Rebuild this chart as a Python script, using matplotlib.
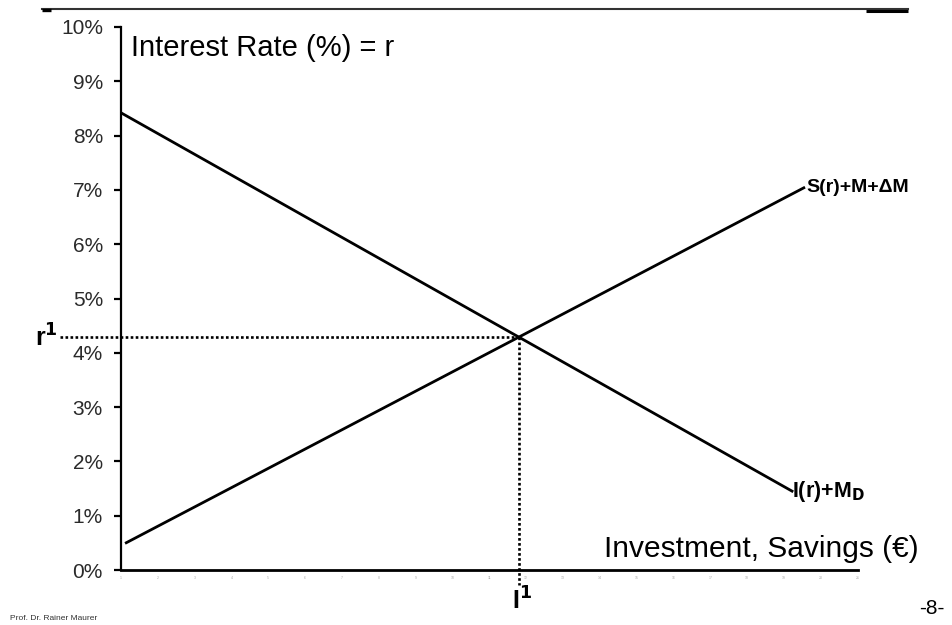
import matplotlib
matplotlib.use("Agg")
import matplotlib.pyplot as plt
import numpy as np

plt.rcParams['font.family'] = ['Liberation Sans', 'DejaVu Sans']

# Data
yticks = [0, 1, 2, 3, 4, 5, 6, 7, 8, 9, 10]
ytick_labels = ["0%", "1%", "2%", "3%", "4%", "5%", "6%", "7%", "8%", "9%", "10%"]
xticks = list(range(0, 21))
xtick_labels = [str(i) for i in range(1, 22)]

invest_x = [0.0, 18.25]     # I(r)+M_D
invest_y = [8.42, 1.44]
savings_x = [0.11, 18.57]   # S(r)+M+ΔM
savings_y = [0.49, 7.05]

# intersection
def line_params(xs, ys):
    m = (ys[1] - ys[0]) / (xs[1] - xs[0])
    return m, ys[0] - m * xs[0]
m1, b1 = line_params(invest_x, invest_y)
m2, b2 = line_params(savings_x, savings_y)
I1 = (b2 - b1) / (m1 - m2)
r1 = m1 * I1 + b1

W, H = 953, 625
fig = plt.figure(figsize=(W / 100, H / 100), dpi=100)
ax = fig.add_axes([121 / W, 1 - 570 / H, (857.7 - 121) / W, (570 - 27) / H])
ax.set_xlim(0, 20)
ax.set_ylim(0, 10)

for s in ['top', 'right']:
    ax.spines[s].set_visible(False)
ax.spines['left'].set_linewidth(1.6)
ax.spines['bottom'].set_linewidth(2.0)

ax.set_yticks(yticks)
ax.set_yticklabels(ytick_labels, fontsize=15, color='#2a2a2a')
ax.tick_params(axis='y', length=5, width=1.6, pad=8)
ax.set_xticks(xticks)
ax.set_xticklabels(xtick_labels, fontsize=2.5, color='#aaaaaa')
ax.tick_params(axis='x', length=0, pad=4)

ax.plot(invest_x, invest_y, color='black', lw=2.0, solid_capstyle='butt')
ax.plot(savings_x, savings_y, color='black', lw=2.0, solid_capstyle='butt')

dot = (0, (1.0, 0.9))
ax.plot([-1.66, I1], [r1, r1], color='black', lw=1.9, linestyle=dot,
        dash_capstyle='butt', clip_on=False)
ax.plot([I1, I1], [r1, -0.28], color='black', lw=1.9, linestyle=dot,
        dash_capstyle='butt', clip_on=False)

# texts
def fx(px): return px / W
def fy(py): return 1 - py / H

fig.text(fx(131), fy(48), "Interest Rate (%) = r", fontsize=21, va='center', ha='left')
fig.text(fx(919), fy(549), "Investment, Savings (€)", fontsize=21.5, va='center', ha='right')
fig.text(fx(806), fy(188), "S(r)+M+ΔM", fontsize=14, fontweight='bold', va='center', ha='left')
fig.text(fx(792), fy(492), r"I(r)+M$_\mathbf{D}$", fontsize=15.5, fontweight='bold', va='center', ha='left')
fig.text(fx(58), fy(338), r"r$^\mathbf{1}$", fontsize=18, fontweight='bold', va='center', ha='right')
fig.text(fx(512), fy(601), r"I$^\mathbf{1}$", fontsize=18, fontweight='bold', va='center', ha='left')
fig.text(fx(10), fy(619), "Prof. Dr. Rainer Maurer", fontsize=6, color='#333333', va='center', ha='left')
fig.text(fx(945), fy(609), "-8-", fontsize=15, va='center', ha='right')

# top rule
fig.add_artist(plt.Line2D([fx(42), fx(908)], [fy(9), fy(9)], color='#333333', lw=1.5))
fig.add_artist(plt.Line2D([fx(42), fx(51)], [fy(10), fy(10)], color='black', lw=2.4, solid_capstyle='butt'))
fig.add_artist(plt.Line2D([fx(866), fx(908)], [fy(10.5), fy(10.5)], color='black', lw=2.2, solid_capstyle='butt'))

fig.savefig("out.png", dpi=100)
